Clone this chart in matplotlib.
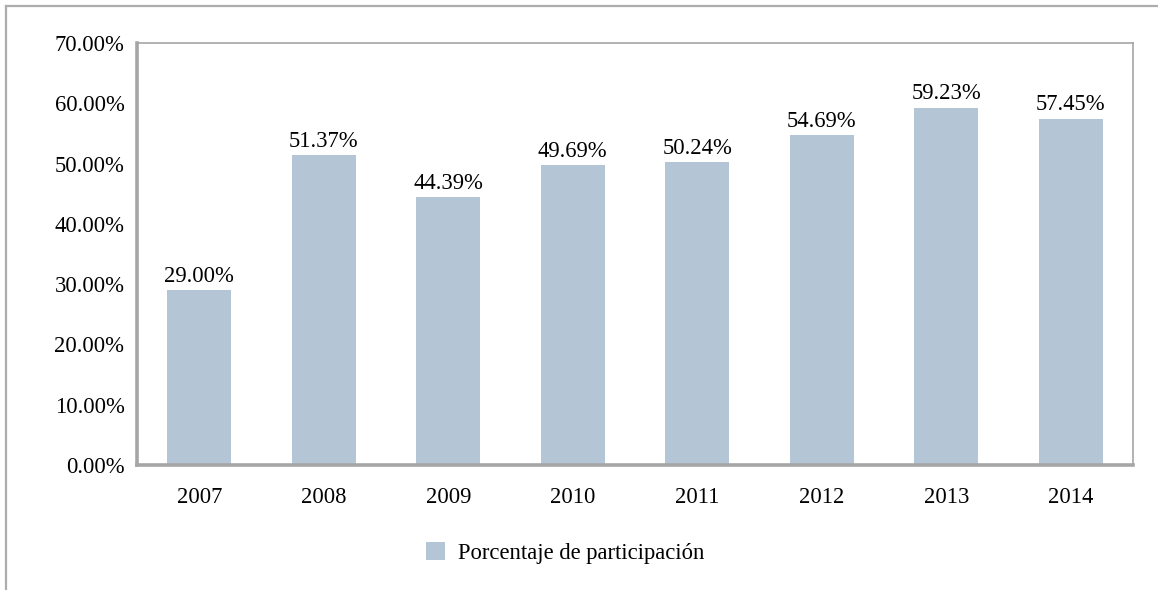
import matplotlib
matplotlib.use("Agg")
import matplotlib.pyplot as plt
from matplotlib.lines import Line2D
from matplotlib.patches import Patch

years = ["2007", "2008", "2009", "2010", "2011", "2012", "2013", "2014"]
values = [29.00, 51.37, 44.39, 49.69, 50.24, 54.69, 59.23, 57.45]
series_name = "Porcentaje de participación"

plt.rcParams['font.family'] = ['Liberation Serif', 'DejaVu Serif']

FS = 16.3
bar_color = "#B4C5D5"
spine_color = "#A6A6A6"

fig = plt.figure(figsize=(11.58, 5.90), dpi=100)
ax = fig.add_axes([0.1183, 0.2119, 0.8601, 0.7153])

x = list(range(len(years)))
bars = ax.bar(x, values, width=0.515, color=bar_color, zorder=2)
for xi, v in zip(x, values):
    ax.annotate(f"{v:.2f}%", (xi, v), xytext=(0, 2.5), textcoords="offset points",
                ha="center", va="bottom", fontsize=FS, color="black")

ax.set_xlim(-0.5, len(years) - 0.5)
ax.set_ylim(0, 70)
ax.set_yticks([0, 10, 20, 30, 40, 50, 60, 70])
ax.set_yticklabels([f"{t:.2f}%" for t in [0, 10, 20, 30, 40, 50, 60, 70]])
ax.set_xticks(x)
ax.set_xticklabels(years)
ax.tick_params(axis='both', length=0, labelsize=FS, colors='black')
ax.tick_params(axis='y', pad=9)
ax.tick_params(axis='x', pad=15.5)

for s in ['top', 'right']:
    ax.spines[s].set_color(spine_color)
    ax.spines[s].set_linewidth(1.2)
for s in ['left', 'bottom']:
    ax.spines[s].set_color(spine_color)
    ax.spines[s].set_linewidth(2.6)

leg = fig.legend(handles=[Patch(facecolor=bar_color, label=series_name)],
                 loc='center', bbox_to_anchor=(0.488, 0.063), frameon=False,
                 fontsize=FS, handlelength=0.85, handleheight=0.85, handletextpad=0.55)

# outer border (left and top)
fig.add_artist(Line2D([6/1158, 6/1158], [0, 1 - 6/590], transform=fig.transFigure,
                      color="#ADADAD", linewidth=1.6))
fig.add_artist(Line2D([6/1158, 1], [1 - 6/590, 1 - 6/590], transform=fig.transFigure,
                      color="#ADADAD", linewidth=1.6))

fig.savefig("out.png", dpi=100)
